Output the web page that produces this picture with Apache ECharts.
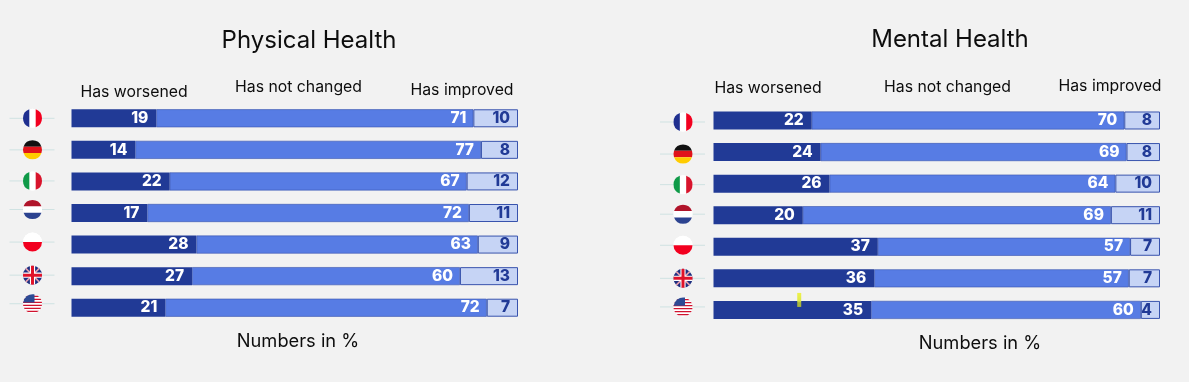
<!DOCTYPE html>
<html><head><meta charset="utf-8">
<style>html,body{margin:0;padding:0;background:#f2f2f2}#c{width:1189px;height:382px}</style>
<script src="https://cdn.jsdelivr.net/npm/echarts@6/dist/echarts.min.js"></script>
</head><body><div id="c"></div>
<script>
const countries = ['France','Germany','Italy','Netherlands','Poland','United Kingdom','United States'];
const physWorse = [19,14.3,22,17,28,27,21];
const physSame  = [71,77.4,66.5,72,63,60,72];
const physBetter= [10,8.3,11.5,11,9,13,7];
const mentWorse = [22,24,26,20,36.8,36,35.3];
const mentSame  = [70,68.5,64,69,56.5,57,60.4];
const mentBetter= [8,7.5,10,11,6.7,7,4.3];
const physFlagNudge = [0,0,-0.5,-3.5,-2.5,-1,-4];
const mentFlagNudge = [1.5,2,1,-1,-1.5,0,-3];
const titles = ['Physical Health','Mental Health'];
const headers = ['Has worsened','Has not changed','Has improved'];
const unitNote = 'Numbers in %';

const FONT = 'Inter, Lato, sans-serif';
const R = 9.5;
function hband(y1,y2,r){ r=r||R;
  const a=Math.sqrt(Math.max(r*r-y1*y1,0)), b=Math.sqrt(Math.max(r*r-y2*y2,0));
  return `M${-a} ${y1}L${a} ${y1}A${r} ${r} 0 0 1 ${b} ${y2}L${-b} ${y2}A${r} ${r} 0 0 1 ${-a} ${y1}Z`;
}
function vband(x1,x2,r){ r=r||R;
  const a=Math.sqrt(Math.max(r*r-x1*x1,0)), b=Math.sqrt(Math.max(r*r-x2*x2,0));
  return `M${x1} ${-a}L${x1} ${a}A${r} ${r} 0 0 0 ${x2} ${b}L${x2} ${-b}A${r} ${r} 0 0 0 ${x1} ${-a}Z`;
}
const disc = hband(-R+0.001,0)+hband(0,R-0.001);
function diag(w,sx){ const k=R*0.7071,d=w*0.7071;
  return `M${sx*(-k-d)} ${-k+d}L${sx*(-k+d)} ${-k-d}L${sx*(k+d)} ${k-d}L${sx*(k-d)} ${k+d}Z`; }
const flags = [
 [['#fff',disc],['#1f2f8f',vband(-R,-3.2)],['#f2001f',vband(3.2,R)]],
 [['#111',hband(-R,-3.2)],['#e0131b',hband(-3.2,3.2)],['#ffcc00',hband(3.2,R)]],
 [['#fff',disc],['#0f9a48',vband(-R,-3.2)],['#d8142c',vband(3.2,R)]],
 [['#fff',disc],['#b0142a',hband(-R,-3.2)],['#2c4390',hband(3.2,R)]],
 [['#fff',hband(-R,0)],['#f2001f',hband(0,R)]],
 [['#1e2f80',disc],['#e8a0ae',diag(0.8,1)],['#e8a0ae',diag(0.8,-1)],['#fff',hband(-2.6,2.6)],['#fff',vband(-2.6,2.6)],['#e0132a',hband(-1.5,1.5)],['#e0132a',vband(-1.5,1.5)]],
 [['#fff',disc],
  ['#d0122e',hband(-2,-0.6)],['#d0122e',hband(1,2.4)],['#d0122e',hband(4,5.4)],['#d0122e',hband(7,8.4)],['#d0122e',hband(-8,-6.6)],['#d0122e',hband(-5,-3.6)],
  ['#2d4a94',`M-9.4 -1.2A${R} ${R} 0 0 1 2 -9.3L2 -1.2Z`]]
];

function flagSeries(gridIndex,nudge,offsetX){
  return {
    type:'custom', xAxisIndex:gridIndex, yAxisIndex:gridIndex, silent:true, z:5, clip:false,
    data:countries.map(c=>[0,c]),
    encode:{x:0,y:1},
    renderItem(params,api){
      const p=api.coord([0,api.value(1)]);
      const i=params.dataIndex;
      const cx=p[0]-offsetX, cy=p[1]+nudge[i];
      const children=[{type:'line',shape:{x1:-23,y1:0,x2:22,y2:0},style:{stroke:'#cfe2e2',lineWidth:1}}];
      children.push({type:'path',shape:{pathData:disc},style:{fill:'#fff'}});
      flags[i].forEach(f=>children.push({type:'path',shape:{pathData:f[1]},style:{fill:f[0]}}));
      return {type:'group',x:cx,y:cy,children};
    }
  };
}
function barSeries(gridIndex,values,color,labelColor,pad,border,bw){
  return {
    type:'bar', stack:'s'+gridIndex, xAxisIndex:gridIndex, yAxisIndex:gridIndex,
    barWidth:18, data:values, animation:false, silent:true,
    itemStyle:{color:color,borderColor:border,borderWidth:bw,borderJoin:'miter'},
    label:{show:true,position:'insideRight',distance:pad,color:labelColor,
      fontFamily:'Inter, sans-serif',fontWeight:800,fontSize:15.5,
      formatter:p=>String(Math.round(p.value))}
  };
}
function makeText(text,cx,y,size){
  return {text,left:cx,top:y,textAlign:'center',textVerticalAlign:'middle',padding:0,
    textStyle:{fontFamily:FONT,fontWeight:400,fontSize:size,color:'#0d0d0d'}};
}
const headerPos=[[[134,92],[298.5,87],[462,90]],[[768,88],[947.5,87],[1110,86]]];
const titleList=[
  makeText(titles[0],309,41,24),makeText(titles[1],950,40,24),
  makeText(unitNote,298,342,18.3),makeText(unitNote,980,344,18.3)
];
headerPos.forEach(g=>g.forEach((p,i)=>titleList.push(makeText(headers[i],p[0],p[1],15.8))));

const DARK='#213a96',MID='#577ce4',LIGHT='#c6d4f5',EDGE='#3853ad';
const ch=echarts.init(document.getElementById('c'),null,{renderer:'canvas'});
ch.setOption({
  backgroundColor:'#f2f2f2',animation:false,
  title:titleList,
  grid:[{left:71.5,width:446.5,top:102.5,height:221},{left:713.5,width:446.5,top:104.7,height:221}],
  xAxis:[0,1].map(g=>({gridIndex:g,type:'value',min:0,max:100,show:false})),
  yAxis:[0,1].map(g=>({gridIndex:g,type:'category',inverse:true,data:countries,show:false})),
  series:[
    barSeries(0,physWorse,DARK,'#fff',8,DARK,0),
    barSeries(0,physSame,MID,'#fff',7,EDGE,0.6),
    barSeries(0,physBetter,LIGHT,DARK,8,EDGE,1),
    barSeries(1,mentWorse,DARK,'#fff',8,DARK,0),
    barSeries(1,mentSame,MID,'#fff',7,EDGE,0.6),
    barSeries(1,mentBetter,LIGHT,DARK,8,EDGE,1),
    flagSeries(0,physFlagNudge,39),
    flagSeries(1,mentFlagNudge,30.5),
    {type:'custom',xAxisIndex:1,yAxisIndex:1,silent:true,z:6,clip:false,
     data:[[19.2,countries[6]]],encode:{x:0,y:1},
     renderItem(params,api){
       const p=api.coord([api.value(0),api.value(1)]);
       return {type:'rect',shape:{x:p[0]-2,y:p[1]-17,width:4,height:14},
         style:{fill:new echarts.graphic.LinearGradient(0,0,0,1,[{offset:0,color:'#eef24a'},{offset:0.55,color:'#dfe84a'},{offset:0.7,color:'#a9b83c'},{offset:1,color:'#a9b83c'}])}};
     }}
  ]
});
</script></body></html>
